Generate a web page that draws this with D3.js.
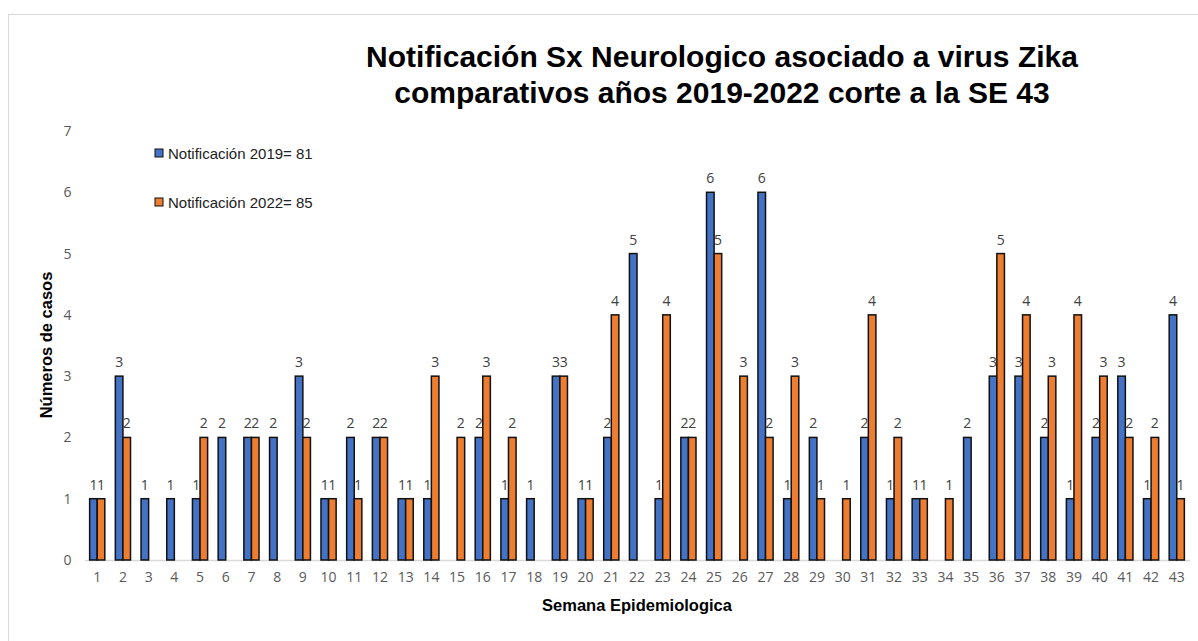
<!DOCTYPE html>
<html>
<head>
<meta charset="utf-8">
<script src="https://cdn.jsdelivr.net/npm/d3@7"></script>
<style>
  body { margin: 0; background: #fff; }
  svg { display: block; }
</style>
</head>
<body>
<svg id="chart" width="1198" height="641"></svg>
<script>
// datos
const semanas = d3.range(1, 44).map(String);
const casos2019 = [1,3,1,1,1,2,2,2,3,1,2,2,1,1,0,2,1,1,3,1,2,5,1,2,6,0,6,1,2,0,2,1,1,0,2,3,3,2,1,2,3,1,4];
const casos2022 = [1,2,0,0,2,0,2,0,2,1,1,2,1,3,2,3,2,0,3,1,4,0,4,2,5,3,2,3,1,1,4,2,1,1,0,5,4,3,4,3,2,2,1];
const series = ["Notificación 2019= 81", "Notificación 2022= 85"];
const colores = ["#4472C4", "#ED7D31"];
const yTicks = [0,1,2,3,4,5,6,7];

const svg = d3.select("#chart");
const margin = {left: 84.5, right: 1189.5, top: 131, bottom: 560};
const fuenteNum = "'Open Sans', sans-serif";
const fuenteTxt = "'Liberation Sans', Arial, sans-serif";

// borde del area del grafico
svg.append("rect")
  .attr("x", 8.5).attr("y", 14.5)
  .attr("width", 1200).attr("height", 640)
  .attr("fill", "none").attr("stroke", "#d9d9d9");

const x = d3.scaleBand().domain(semanas).range([margin.left, margin.right]).paddingInner(0.41).paddingOuter(0.2);
const xs = d3.scaleBand().domain([0, 1]).range([0, x.bandwidth()]);
const y = d3.scaleLinear().domain([0, 7]).range([margin.bottom, margin.top]);

// titulo
const title = svg.append("text")
  .attr("x", 722).attr("y", 67)
  .attr("text-anchor", "middle")
  .style("font-family", fuenteTxt)
  .style("font-weight", "bold").style("font-size", "30px").attr("fill", "#000");
title.append("tspan").attr("x", 722).text("Notificación Sx Neurologico asociado a virus Zika");
title.append("tspan").attr("x", 722).attr("dy", 36).text("comparativos años 2019-2022 corte a la SE 43");

// eje y
const gy = svg.append("g").attr("transform", `translate(${margin.left},0)`)
  .call(d3.axisLeft(y).tickValues(yTicks).tickFormat(d3.format("d")).tickSize(0).tickPadding(13));
gy.select(".domain").remove();
gy.selectAll("text").style("font-family", fuenteNum).style("font-size", "14px").attr("fill", "#595959");

// eje x
const gx = svg.append("g").attr("transform", `translate(0,${margin.bottom})`)
  .call(d3.axisBottom(x).tickSize(0).tickPadding(12));
gx.select(".domain").attr("stroke", "#d9d9d9").attr("stroke-width", 1.5);
gx.selectAll("text").style("font-family", fuenteNum).style("font-size", "14px").attr("fill", "#595959");

// barras
const datos = semanas.map((s, i) => ({s, v: [casos2019[i], casos2022[i]]}));
const grupos = svg.append("g").selectAll("g").data(datos).join("g")
  .attr("transform", d => `translate(${x(d.s)},0)`);

grupos.selectAll("rect").data(d => d.v.map((v, k) => ({v, k}))).join("rect")
  .filter(d => d.v > 0)
  .attr("x", d => xs(d.k))
  .attr("y", d => y(d.v))
  .attr("width", xs.bandwidth())
  .attr("height", d => y(0) - y(d.v))
  .attr("fill", d => colores[d.k])
  .attr("stroke", "#111").attr("stroke-width", 1.5);

// etiquetas de datos
grupos.selectAll("text").data(d => d.v.map((v, k) => ({v, k}))).join("text")
  .filter(d => d.v > 0)
  .attr("x", d => xs(d.k) + xs.bandwidth() / 2)
  .attr("y", d => y(d.v) - 9)
  .attr("text-anchor", "middle")
  .style("font-family", fuenteNum).style("font-size", "14px")
  .attr("fill", "#404040")
  .text(d => d.v);

// leyenda
const leg = svg.append("g").selectAll("g").data(series).join("g")
  .attr("transform", (d, i) => `translate(155,${149 + i * 49})`);
leg.append("rect").attr("width", 8).attr("height", 8)
  .attr("fill", (d, i) => colores[i]).attr("stroke", "#111").attr("stroke-width", 1);
leg.append("text").attr("x", 13).attr("y", 9.5)
  .style("font-family", fuenteTxt).style("font-size", "15px")
  .attr("fill", "#222").text(d => d);

// titulos de ejes
svg.append("text")
  .attr("transform", "translate(52,345) rotate(-90)")
  .attr("text-anchor", "middle")
  .style("font-family", fuenteTxt).style("font-weight", "bold").style("font-size", "16.5px")
  .text("Números de casos");

svg.append("text")
  .attr("x", 637).attr("y", 611)
  .attr("text-anchor", "middle")
  .style("font-family", fuenteTxt).style("font-weight", "bold").style("font-size", "16.5px")
  .text("Semana Epidemiologica");
</script>
</body>
</html>
